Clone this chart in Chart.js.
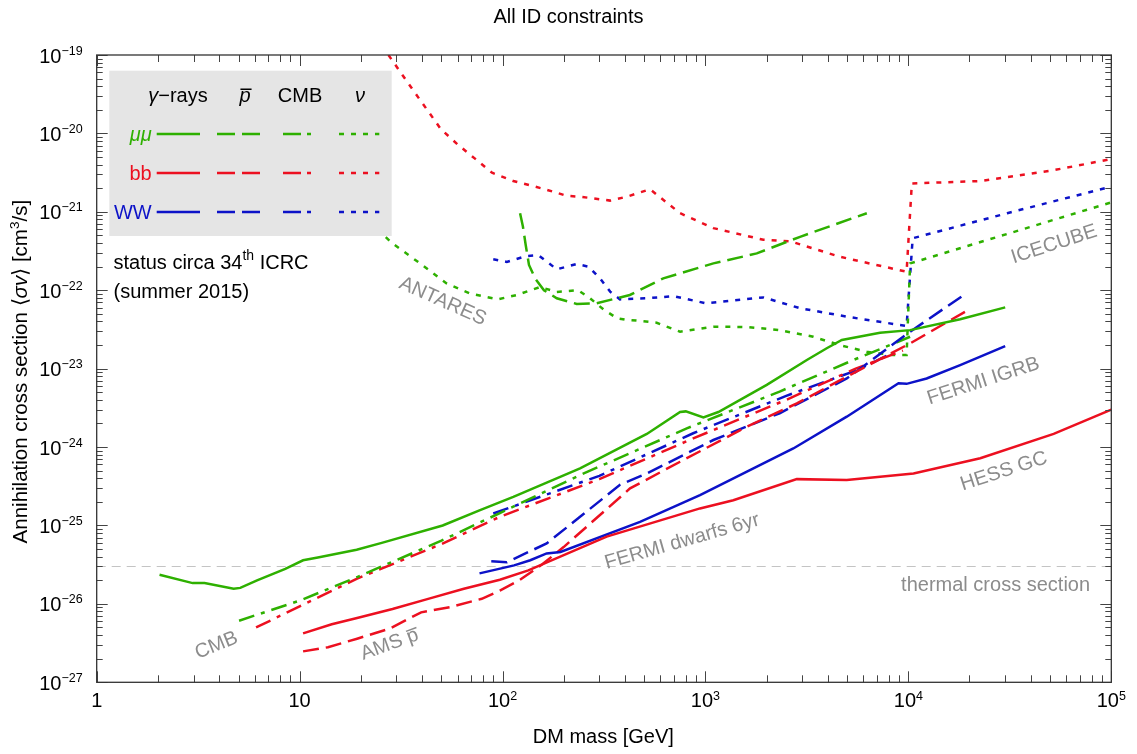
<!DOCTYPE html>
<html>
<head>
<meta charset="utf-8">
<title>All ID constraints</title>
<script src="https://cdn.jsdelivr.net/npm/chart.js@4.4.1/dist/chart.umd.min.js"></script>
<style>
  body { margin: 0; background: #fff; }
  #wrap { width: 1137px; height: 754px; }
</style>
</head>
<body>
<div id="wrap"><canvas id="idChart" width="1137" height="754"></canvas></div>
<script>
// ---- data (DM mass in GeV, <sigma v> in cm^3/s) ----
// gamma-rays
var gamMuMuX = [2.04, 2.97, 3.4, 4.73, 5.1, 6.17, 8.5, 10.4, 12.3, 19.1, 25.4, 50.7, 77.5, 113, 241, 514, 750, 800, 977, 1158, 2005, 3160, 3960, 4700, 7250, 10200, 18000, 30000];
var gamMuMuY = [2.35e-26, 1.84e-26, 1.84e-26, 1.56e-26, 1.6e-26, 2.0e-26, 2.8e-26, 3.6e-26, 3.9e-26, 4.9e-26, 6.0e-26, 1.0e-25, 1.57e-25, 2.32e-25, 5.35e-25, 1.47e-24, 2.8e-24, 2.85e-24, 2.39e-24, 2.8e-24, 6.2e-24, 1.29e-23, 1.82e-23, 2.32e-23, 2.87e-23, 3.1e-23, 4.26e-23, 6.05e-23];
var gamBBX = [10.4, 14.4, 19.2, 28.7, 43, 64.5, 97, 134, 326, 940, 1372, 2820, 4970, 10600, 22600, 52000, 100000];
var gamBBY = [4.2e-27, 5.5e-27, 6.6e-27, 8.6e-27, 1.16e-26, 1.56e-26, 2.03e-26, 2.67e-26, 7.2e-26, 1.65e-25, 2.1e-25, 3.9e-25, 3.8e-25, 4.6e-25, 7.2e-25, 1.47e-24, 3.0e-24];
var gamWWX = [77, 114, 137, 165, 193, 476, 940, 2710, 4970, 8940, 9800, 12300, 18000, 30000];
var gamWWY = [2.45e-26, 3.1e-26, 3.6e-26, 4.4e-26, 4.6e-26, 1.11e-25, 2.44e-25, 9.6e-25, 2.44e-24, 6.5e-24, 6.4e-24, 7.5e-24, 1.11e-23, 1.94e-23];

// antiprotons (AMS)
var pbarMuMuX = [122, 126, 130, 135, 145, 160, 185, 232, 290, 424, 620, 1094, 1790, 2925, 6240];
var pbarMuMuY = [9.6e-22, 6.5e-22, 3.8e-22, 2.1e-22, 1.4e-22, 1.0e-22, 7.9e-23, 6.7e-23, 6.8e-23, 8.7e-23, 1.42e-22, 2.2e-22, 2.95e-22, 4.8e-22, 9.6e-22];
var pbarBBX = [10.4, 13.8, 19.2, 27.6, 39.7, 55, 79, 97, 121, 157, 200, 425, 750, 1600, 2820, 4970, 10200, 19000];
var pbarBBY = [2.48e-27, 2.8e-27, 3.6e-27, 4.8e-27, 7.8e-27, 9.1e-27, 1.16e-26, 1.48e-26, 2.0e-26, 3.2e-26, 5.3e-26, 2.97e-25, 6.5e-25, 1.82e-24, 3.6e-24, 7.9e-24, 2.1e-23, 5.3e-23];
var pbarWWX = [88, 105, 165, 241, 379, 514, 1094, 2320, 4970, 10200, 19000];
var pbarWWY = [3.5e-26, 3.4e-26, 5.9e-26, 1.29e-25, 3.3e-25, 4.6e-25, 1.23e-24, 2.7e-24, 7.5e-24, 2.96e-23, 8.9e-23];

// CMB
var cmbMuMuX = [5.03, 10, 19.2, 50, 97, 241, 809, 2320, 5360, 10200];
var cmbMuMuY = [6.1e-27, 1.1e-26, 2.2e-26, 6.4e-26, 1.44e-25, 4.4e-25, 1.73e-24, 5.1e-24, 1.29e-23, 2.55e-23];
var cmbBBX = [6.1, 10, 19.2, 50, 97, 300, 870, 2500, 5500, 9400];
var cmbBBY = [5.0e-27, 9.3e-27, 2.1e-26, 5.8e-26, 1.29e-25, 3.9e-25, 1.29e-24, 4.0e-24, 1.0e-23, 1.7e-23];
var cmbWWX = [90, 300, 870, 2500, 5600, 8000];
var cmbWWY = [1.42e-25, 4.3e-25, 1.5e-24, 4.5e-24, 9.6e-24, 1.5e-23];

// neutrinos (ANTARES, ICECUBE)
var nuMuMuX = [24, 25.9, 28.4, 39.2, 53, 69, 95, 117.5, 153, 185, 236, 270, 314, 366, 410, 457, 575, 750, 1094, 1600, 2320, 3400, 4580, 6240, 8400, 9800, 10200, 100000];
var nuMuMuY = [6.0e-22, 5.06e-22, 4.04e-22, 2.2e-22, 1.22e-22, 9.1e-23, 7.65e-23, 8.7e-23, 1.1e-22, 9.5e-23, 1.0e-22, 7.9e-23, 5.7e-23, 4.4e-23, 4.17e-23, 4.1e-23, 3.85e-23, 2.96e-23, 3.43e-23, 3.4e-23, 3.1e-23, 2.55e-23, 2.0e-23, 1.64e-23, 1.49e-23, 1.49e-23, 2.2e-22, 1.32e-21];
var nuBBX = [27.4, 31.9, 37, 42.8, 49.6, 59.8, 72.9, 88.8, 113, 162, 207, 241, 339, 410, 533, 750, 1094, 1930, 2620, 4580, 9800, 10400, 22600, 52000, 100000];
var nuBBY = [1e-19, 5.7e-20, 3.3e-20, 1.95e-20, 1.14e-20, 7.3e-21, 4.8e-21, 3.15e-21, 2.47e-21, 1.94e-21, 1.6e-21, 1.56e-21, 1.39e-21, 1.56e-21, 1.94e-21, 9.6e-22, 6.2e-22, 4.4e-22, 4.2e-22, 2.68e-22, 1.72e-22, 2.3e-21, 2.47e-21, 3.4e-21, 4.7e-21];
var nuWWX = [90, 105, 131, 150, 185, 232, 265, 302, 339, 379, 514, 697, 1010, 1930, 2925, 4970, 9800, 10500, 30700, 100000];
var nuWWY = [2.48e-22, 2.3e-22, 2.73e-22, 2.8e-22, 1.85e-22, 2.16e-22, 2.0e-22, 1.42e-22, 9.6e-23, 7.65e-23, 7.9e-23, 8.4e-23, 6.8e-23, 8.1e-23, 5.9e-23, 4.6e-23, 3.5e-23, 4.6e-22, 9.6e-22, 2.1e-21];

// thermal relic cross section
var thermalX = [1, 100000];
var thermalY = [3e-26, 3e-26];

// axis ticks (decades)
var xDecades = [0, 1, 2, 3, 4, 5];
var yDecades = [-27, -26, -25, -24, -23, -22, -21, -20, -19];

var GREEN = '#2eb000', RED = '#ec1020', BLUE = '#0c12c8', GRAY = '#8c8c8c';
var DASH = [16, 7], DASHDOT = [16, 7, 4, 7], DOT = [5, 7];

function F(size, style) {
  return (style ? style + ' ' : '') + size + 'px "Liberation Sans", Arial, sans-serif';
}

function pts(xs, ys) {
  return xs.map(function (x, i) { return { x: x, y: ys[i] }; });
}

function series(xs, ys, color, dash) {
  return {
    data: pts(xs, ys),
    showLine: true,
    borderColor: color,
    borderWidth: 2.5,
    borderDash: dash,
    borderCapStyle: 'butt',
    pointRadius: 0,
    fill: false,
    tension: 0
  };
}

// draw a row of text pieces with different fonts (superscripts, italics, overbars)
function drawRuns(ctx, runs, x, y, align) {
  var w = 0, i;
  for (i = 0; i < runs.length; i++) { ctx.font = runs[i].f; w += ctx.measureText(runs[i].t).width; }
  var cx = align === 'center' ? x - w / 2 : (align === 'right' ? x - w : x);
  ctx.textAlign = 'left';
  ctx.textBaseline = 'alphabetic';
  for (i = 0; i < runs.length; i++) {
    var r = runs[i];
    ctx.font = r.f;
    var rw = ctx.measureText(r.t).width;
    ctx.fillText(r.t, cx, y + (r.dy || 0));
    if (r.bar) ctx.fillRect(cx + 1, y - r.bar, rw, 1.5);
    cx += rw;
  }
}

var notes = [
  { runs: [{ t: 'ANTARES', f: F(20) }], x: 51, y: 7.5e-23, a: 24 },
  { runs: [{ t: 'ICECUBE', f: F(20) }], x: 52000, y: 4.0e-22, a: -18 },
  { runs: [{ t: 'FERMI IGRB', f: F(20) }], x: 23300, y: 7.2e-24, a: -18 },
  { runs: [{ t: 'HESS GC', f: F(20) }], x: 29400, y: 5.1e-25, a: -18 },
  { runs: [{ t: 'FERMI dwarfs 6yr', f: F(20) }], x: 764, y: 6.5e-26, a: -16 },
  { runs: [{ t: 'CMB', f: F(20) }], x: 3.87, y: 3.07e-27, a: -22 },
  { runs: [{ t: 'AMS ', f: F(20) }, { t: 'p', f: F(20), bar: 13 }], x: 27.6, y: 3.16e-27, a: -20 }
];

var decorations = {
  id: 'decorations',
  afterDatasetsDraw: function (chart) {
    var ctx = chart.ctx, xs = chart.scales.x, ys = chart.scales.y, ca = chart.chartArea;
    ctx.save();

    // grey curve labels
    ctx.fillStyle = GRAY;
    notes.forEach(function (n) {
      ctx.save();
      ctx.translate(xs.getPixelForValue(n.x), ys.getPixelForValue(n.y));
      ctx.rotate(n.a * Math.PI / 180);
      drawRuns(ctx, n.runs, 0, 7, 'center');
      ctx.restore();
    });
    drawRuns(ctx, [{ t: 'thermal cross section', f: F(20) }],
      xs.getPixelForValue(78600), ys.getPixelForValue(1.8e-26) + 7, 'right');

    // status text
    ctx.fillStyle = '#000';
    var sx = xs.getPixelForValue(1.21);
    drawRuns(ctx, [{ t: 'status circa 34', f: F(20) }, { t: 'th', f: F(14), dy: -9 }, { t: ' ICRC', f: F(20) }],
      sx, ys.getPixelForValue(1.86e-22), 'left');
    drawRuns(ctx, [{ t: '(summer 2015)', f: F(20) }], sx, ys.getPixelForValue(7.9e-23), 'left');

    // legend box
    var bx = ca.left + 12.6, by = ca.top + 15.7;
    ctx.fillStyle = '#e5e5e5';
    ctx.fillRect(bx, by, 282.4, 165.3);

    ctx.fillStyle = '#000';
    var hy = by + 30.8;
    drawRuns(ctx, [{ t: 'γ', f: F(20, 'italic') }, { t: '−rays', f: F(20) }], bx + 68.7, hy, 'center');
    drawRuns(ctx, [{ t: 'p', f: F(20, 'italic'), bar: 13 }], bx + 135.7, hy, 'center');
    drawRuns(ctx, [{ t: 'CMB', f: F(20) }], bx + 190.7, hy, 'center');
    drawRuns(ctx, [{ t: 'ν', f: F(20, 'italic') }], bx + 250.7, hy, 'center');

    var rows = [
      { label: 'μμ', style: 'italic', color: GREEN, dy: 63.3 },
      { label: 'bb', style: '', color: RED, dy: 102.3 },
      { label: 'WW', style: '', color: BLUE, dy: 141.3 }
    ];
    var segs = [
      { x0: 47.4, x1: 90.7, dash: [] },
      { x0: 107.7, x1: 151.4, dash: [18, 7] },
      { x0: 173.7, x1: 203.7, dash: [18, 6, 4, 6] },
      { x0: 229.7, x1: 270, dash: [5, 7] }
    ];
    rows.forEach(function (r) {
      var ry = by + r.dy;
      ctx.fillStyle = r.color;
      drawRuns(ctx, [{ t: r.label, f: F(20, r.style) }], bx + 42.4, ry + 7, 'right');
      ctx.strokeStyle = r.color;
      ctx.lineWidth = 2.5;
      ctx.lineCap = 'butt';
      segs.forEach(function (s) {
        ctx.setLineDash(s.dash);
        ctx.beginPath();
        ctx.moveTo(bx + s.x0, ry);
        ctx.lineTo(bx + s.x1, ry);
        ctx.stroke();
      });
    });
    ctx.setLineDash([]);
    ctx.restore();
  },
  afterDraw: function (chart) {
    var ctx = chart.ctx, xs = chart.scales.x, ys = chart.scales.y, ca = chart.chartArea;
    ctx.save();
    ctx.strokeStyle = '#444';
    ctx.lineWidth = 1;
    ctx.beginPath();
    // x ticks, bottom and top
    xDecades.forEach(function (e) {
      for (var m = 1; m <= 9; m++) {
        if (e === 5 && m > 1) break;
        var px = Math.round(xs.getPixelForValue(m * Math.pow(10, e))) + 0.5;
        var len = m === 1 ? 11 : 7;
        ctx.moveTo(px, ca.bottom); ctx.lineTo(px, ca.bottom - len);
        ctx.moveTo(px, ca.top); ctx.lineTo(px, ca.top + len);
      }
    });
    // y ticks, left and right
    yDecades.forEach(function (e) {
      for (var m = 1; m <= 9; m++) {
        if (e === -19 && m > 1) break;
        var py = Math.round(ys.getPixelForValue(m * Math.pow(10, e))) + 0.5;
        var len = m === 1 ? 11 : 6;
        ctx.moveTo(ca.left, py); ctx.lineTo(ca.left + len, py);
        ctx.moveTo(ca.right, py); ctx.lineTo(ca.right - len, py);
      }
    });
    ctx.stroke();

    // frame
    ctx.strokeStyle = '#333';
    ctx.lineWidth = 1.3;
    ctx.strokeRect(ca.left, ca.top, ca.right - ca.left, ca.bottom - ca.top);

    // tick labels
    ctx.fillStyle = '#000';
    xDecades.forEach(function (e) {
      var px = xs.getPixelForValue(Math.pow(10, e));
      var runs = e === 0 ? [{ t: '1', f: F(20) }]
        : e === 1 ? [{ t: '10', f: F(20) }]
        : [{ t: '10', f: F(20) }, { t: String(e), f: F(12.5), dy: -7.5 }];
      drawRuns(ctx, runs, px, ca.bottom + 25, 'center');
    });
    yDecades.forEach(function (e) {
      var py = ys.getPixelForValue(Math.pow(10, e));
      drawRuns(ctx, [{ t: '10', f: F(20) }, { t: '−' + Math.abs(e), f: F(12.5), dy: -8 }],
        ca.left - 14, py + 7.5, 'right');
    });

    // titles
    drawRuns(ctx, [{ t: 'All ID constraints', f: F(20) }], chart.width / 2, 23, 'center');
    drawRuns(ctx, [{ t: 'DM mass [GeV]', f: F(20) }], 603.3, 743, 'center');
    ctx.save();
    ctx.translate(27, (ca.top + ca.bottom) / 2 + 3);
    ctx.rotate(-Math.PI / 2);
    drawRuns(ctx, [
      { t: 'Annihilation cross section ⟨', f: F(20.5) },
      { t: 'σv', f: F(20.5, 'italic') },
      { t: '⟩ [cm', f: F(20.5) },
      { t: '3', f: F(13.5), dy: -8.5 },
      { t: '/s]', f: F(20.5) }
    ], 0, 0, 'center');
    ctx.restore();
    ctx.restore();
  }
};

var thermal = {
  data: pts(thermalX, thermalY),
  showLine: true,
  borderColor: '#c4c4c4',
  borderWidth: 1.2,
  borderDash: [9, 6],
  pointRadius: 0,
  fill: false,
  order: 100
};

new Chart(document.getElementById('idChart'), {
  type: 'scatter',
  data: {
    datasets: [
      thermal,
      series(gamMuMuX, gamMuMuY, GREEN, []),
      series(gamBBX, gamBBY, RED, []),
      series(gamWWX, gamWWY, BLUE, []),
      series(pbarMuMuX, pbarMuMuY, GREEN, DASH),
      series(pbarBBX, pbarBBY, RED, DASH),
      series(pbarWWX, pbarWWY, BLUE, DASH),
      series(cmbMuMuX, cmbMuMuY, GREEN, DASHDOT),
      series(cmbBBX, cmbBBY, RED, DASHDOT),
      series(cmbWWX, cmbWWY, BLUE, DASHDOT),
      series(nuMuMuX, nuMuMuY, GREEN, DOT),
      series(nuBBX, nuBBY, RED, DOT),
      series(nuWWX, nuWWY, BLUE, DOT)
    ]
  },
  options: {
    responsive: false,
    animation: false,
    events: [],
    layout: { padding: { top: 55, right: 25.7, left: 0, bottom: 0 } },
    plugins: { legend: { display: false }, tooltip: { enabled: false }, title: { display: false } },
    scales: {
      x: {
        type: 'logarithmic', min: 1, max: 100000,
        grid: { display: false }, border: { display: false }, ticks: { display: false },
        afterFit: function (s) { s.height = 71.7; }
      },
      y: {
        type: 'logarithmic', min: 1e-27, max: 1e-19,
        grid: { display: false }, border: { display: false }, ticks: { display: false },
        afterFit: function (s) { s.width = 96.7; }
      }
    }
  },
  plugins: [decorations]
});
</script>
</body>
</html>
